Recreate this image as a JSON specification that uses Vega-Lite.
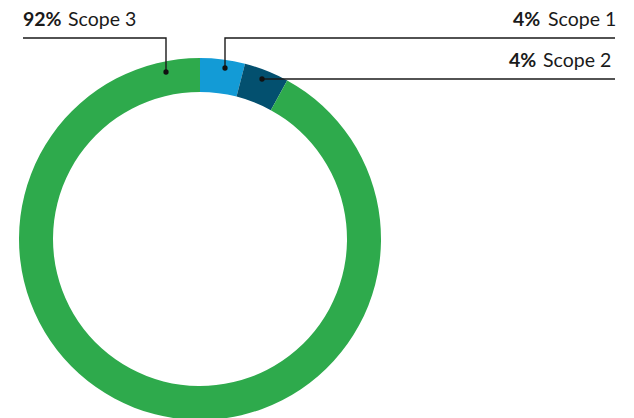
{
  "$schema": "https://vega.github.io/schema/vega-lite/v6.json",
  "width": 634,
  "height": 418,
  "padding": 0,
  "autosize": {"type": "none"},
  "background": "white",
  "config": {"view": {"stroke": null}},
  "datasets": {
    "shares": [
      {"scope": "Scope 1", "pct": 4, "order": 1},
      {"scope": "Scope 2", "pct": 4, "order": 2},
      {"scope": "Scope 3", "pct": 92, "order": 3}
    ],
    "leaders": [
      {"label": "Scope 3", "seq": 1, "x": -177, "y": 201},
      {"label": "Scope 3", "seq": 2, "x": -34, "y": 201},
      {"label": "Scope 3", "seq": 3, "x": -34, "y": 167},
      {"label": "Scope 1", "seq": 1, "x": 415, "y": 201},
      {"label": "Scope 1", "seq": 2, "x": 25, "y": 201},
      {"label": "Scope 1", "seq": 3, "x": 25, "y": 171},
      {"label": "Scope 2", "seq": 1, "x": 415, "y": 160},
      {"label": "Scope 2", "seq": 2, "x": 62, "y": 160}
    ],
    "dots": [
      {"label": "Scope 3", "x": -34, "y": 167},
      {"label": "Scope 1", "x": 25, "y": 171},
      {"label": "Scope 2", "x": 62, "y": 160}
    ],
    "pctText": [
      {"text": "92%", "x": -177, "y": 213},
      {"text": "4%", "x": 313, "y": 213},
      {"text": "4%", "x": 309, "y": 172}
    ],
    "nameText": [
      {"text": "Scope 3", "x": -132, "y": 213},
      {"text": "Scope 1", "x": 348, "y": 213},
      {"text": "Scope 2", "x": 343, "y": 172}
    ]
  },
  "layer": [
    {
      "data": {"name": "shares"},
      "mark": {"type": "arc", "radius": 181, "radius2": 147},
      "encoding": {
        "theta": {"field": "pct", "type": "quantitative", "stack": true},
        "order": {"field": "order", "type": "quantitative"},
        "color": {
          "field": "scope",
          "type": "nominal",
          "scale": {"domain": ["Scope 1", "Scope 2", "Scope 3"], "range": ["#139bd6", "#03506f", "#2eaa4c"]},
          "legend": null
        },
        "x": {"datum": 0, "type": "quantitative", "scale": {"domain": [-200, 434], "nice": false, "zero": false}, "axis": null},
        "y": {"datum": 0, "type": "quantitative", "scale": {"domain": [-179, 239], "nice": false, "zero": false}, "axis": null}
      }
    },
    {
      "data": {"name": "leaders"},
      "mark": {"type": "line", "stroke": "#1a1a1a", "strokeWidth": 1.4, "interpolate": "linear"},
      "encoding": {
        "x": {"field": "x", "type": "quantitative", "axis": null},
        "y": {"field": "y", "type": "quantitative", "axis": null},
        "detail": {"field": "label"},
        "order": {"field": "seq", "type": "quantitative"}
      }
    },
    {
      "data": {"name": "dots"},
      "mark": {"type": "circle", "size": 28, "color": "#111111", "opacity": 1},
      "encoding": {
        "x": {"field": "x", "type": "quantitative", "axis": null},
        "y": {"field": "y", "type": "quantitative", "axis": null}
      }
    },
    {
      "data": {"name": "pctText"},
      "mark": {"type": "text", "align": "left", "baseline": "alphabetic", "font": "Lato", "fontSize": 19.5, "fontWeight": "bold", "color": "#1a1a1a"},
      "encoding": {
        "x": {"field": "x", "type": "quantitative", "axis": null},
        "y": {"field": "y", "type": "quantitative", "axis": null},
        "text": {"field": "text"}
      }
    },
    {
      "data": {"name": "nameText"},
      "mark": {"type": "text", "align": "left", "baseline": "alphabetic", "font": "Lato", "fontSize": 19.5, "fontWeight": "normal", "color": "#1a1a1a"},
      "encoding": {
        "x": {"field": "x", "type": "quantitative", "axis": null},
        "y": {"field": "y", "type": "quantitative", "axis": null},
        "text": {"field": "text"}
      }
    }
  ]
}
